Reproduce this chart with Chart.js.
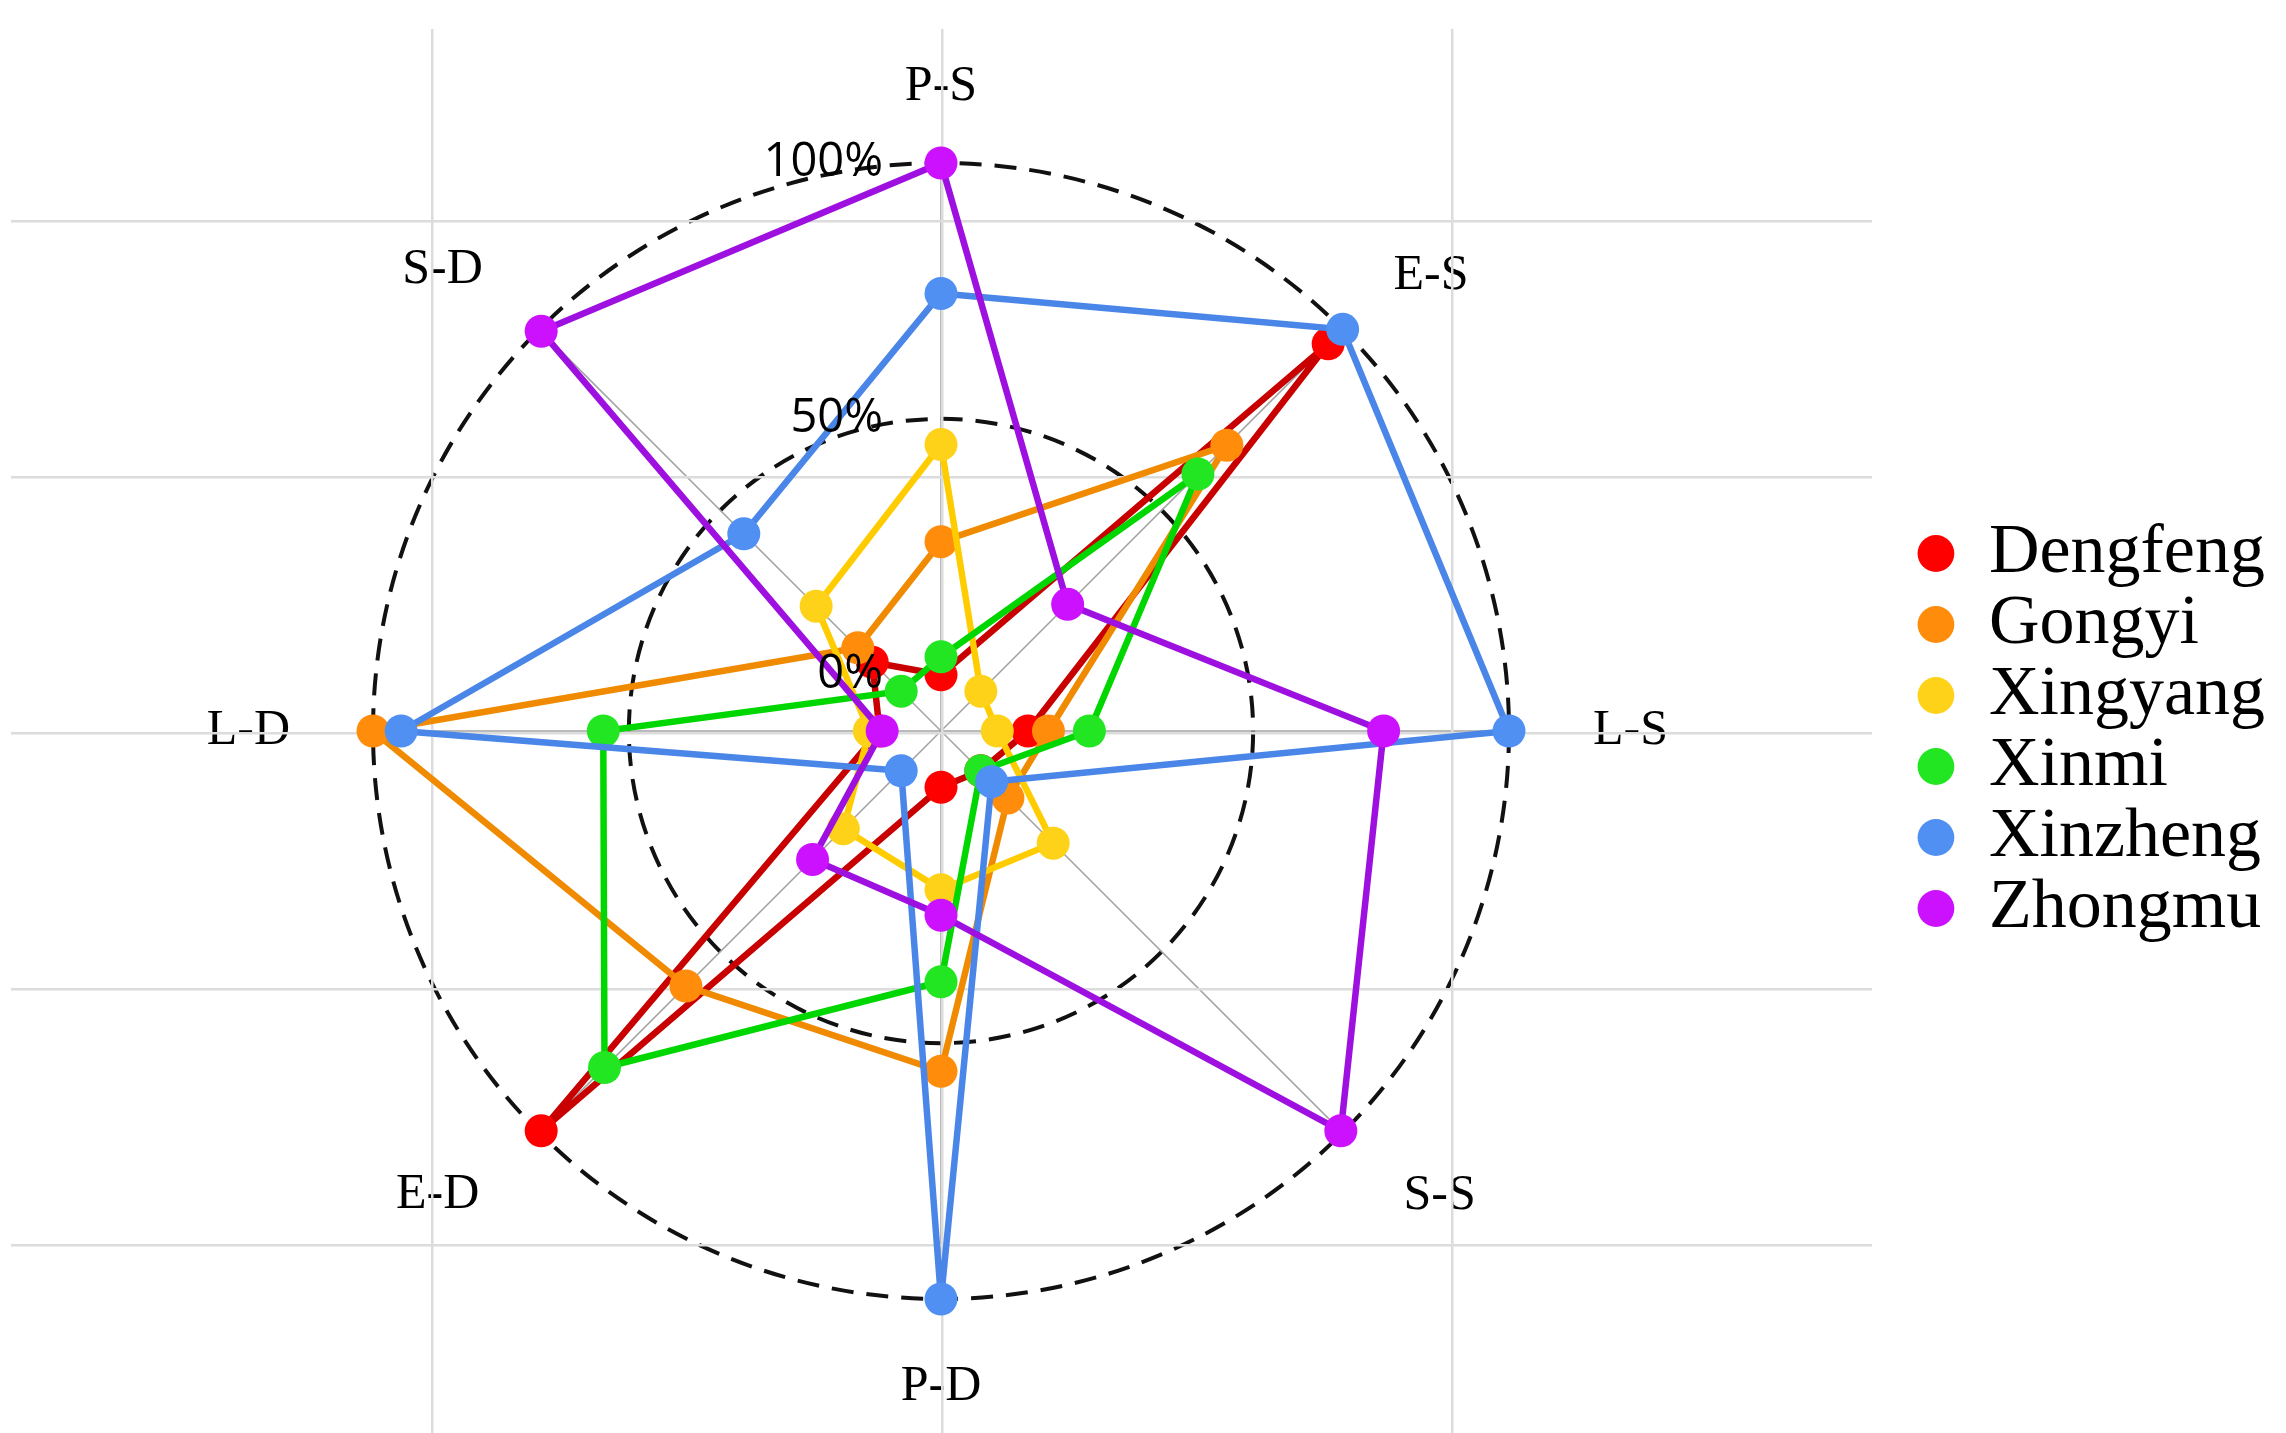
<!DOCTYPE html>
<html>
<head>
<meta charset="utf-8">
<script src="https://cdn.jsdelivr.net/npm/chart.js@4.4.1/dist/chart.umd.min.js"></script>
<style>
  html, body { margin: 0; padding: 0; background: #fff; }
  #wrap { width: 2286px; height: 1433px; }
</style>
</head>
<body>
<div id="wrap"><canvas id="radar"></canvas></div>
<script>
// axes, clockwise from the top
const categories = ["P-S", "E-S", "L-S", "S-S", "P-D", "E-D", "L-D", "S-D"]
const cities = ["Dengfeng", "Gongyi", "Xingyang", "Xinmi", "Xinzheng", "Zhongmu"]

// percentages
const dengfeng = [0, 96, 6, 0, 0, 99.5, 1, 8]
const gongyi   = [26, 68, 10, 7.5, 55.5, 59.5, 100, 12]
const xingyang = [45, 0, 0, 20, 20, 16, 3, 23.5]
const xinmi    = [3.5, 60, 18, 0, 38, 82, 55, 0]
const xinzheng = [74.5, 100, 100, 3, 100, 0, 94.5, 43.5]
const zhongmu  = [100, 24, 75.5, 99.5, 25, 24.5, 0.5, 99.5]

const tickValues = [0, 50, 100]

const lineColors  = ["#C80000", "#F08A00", "#FFCC00", "#00D600", "#4A86E8", "#9D10E0"]
const pointColors = ["#FF0000", "#FF8C0A", "#FFD21A", "#22E622", "#5090F2", "#CC11FF"]

const series = [dengfeng, gongyi, xingyang, xinmi, xinzheng, zhongmu]

// label distance from the 100% ring and label box height, per axis
const labelPad = [18, 72, 84, 86, 42, 85, 83, 80]
const labelLine = [2.32, 0.1, 1.2, 0.1, 1.84, 0.1, 1.2, 0.1]

const datasets = series.map((values, i) => ({
    label: cities[i],
    data: values,
    borderColor: lineColors[i],
    backgroundColor: pointColors[i],
    pointBackgroundColor: pointColors[i],
    pointBorderWidth: 0,
    pointRadius: 16.5,
    borderWidth: 6.5,
    fill: false,
    tension: 0,
    order: series.length - i
}))

// percent labels sit left of the vertical axis
const tickLabels = {
    id: "tickLabels",
    afterDatasetsDraw(chart){
        const r = chart.scales.r
        const ctx = chart.ctx
        ctx.save()
        ctx.font = '47px "Open Sans"'
        ctx.fillStyle = "#000"
        ctx.textAlign = "right"
        ctx.textBaseline = "middle"
        tickValues.forEach(v => {
            ctx.fillText(v + "%", r.xCenter - 58, r.yCenter - r.getDistanceFromCenterForValue(v))
        })
        ctx.restore()
    }
}

const ctx = document.getElementById("radar").getContext("2d")
new Chart(ctx, {
    type: "radar",
    data: { labels: categories, datasets: datasets },
    plugins: [tickLabels],
    options: {
        responsive: true,
        maintainAspectRatio: false,
        devicePixelRatio: 1,
        animation: false,
        layout: { padding: { left: 11, right: 11, top: 29, bottom: 0 } },
        scales: {
            r: {
                min: -11,
                max: 100,
                ticks: { display: false, stepSize: 50 },
                grid: {
                    circular: true,
                    color: c => (c.tick && (c.tick.value === 50 || c.tick.value === 100)) ? "#111" : "rgba(0,0,0,0)",
                    lineWidth: 4
                },
                border: { dash: [22, 13] },
                angleLines: { color: "#A3A3A3", lineWidth: 1.5 },
                pointLabels: {
                    color: "#000",
                    font: c => ({ family: "Liberation Serif", size: 50, lineHeight: labelLine[c.index] }),
                    padding: c => labelPad[c.index]
                }
            },
            // plain background grid behind the radar
            x: {
                type: "linear",
                position: "bottom",
                min: -1.827,
                max: 1.824,
                ticks: { display: false, stepSize: 1, includeBounds: false },
                grid: { color: "#DCDCDC", lineWidth: 2.5, drawTicks: false },
                border: { display: false }
            },
            y: {
                type: "linear",
                position: "right",
                min: -2.734,
                max: 2.75,
                ticks: { display: false, stepSize: 1, includeBounds: false },
                grid: { color: "#DCDCDC", lineWidth: 2.5, drawTicks: false },
                border: { display: false },
                afterFit(scale){ scale.width = 45 }
            }
        },
        plugins: {
            tooltip: { enabled: false },
            legend: {
                position: "right",
                align: "center",
                labels: {
                    usePointStyle: true,
                    boxWidth: 36,
                    boxHeight: 26,
                    padding: 1,
                    color: "#000",
                    font: { family: "Liberation Serif", size: 70 },
                    sort: (a, b) => a.datasetIndex - b.datasetIndex,
                    generateLabels(chart){
                        return Chart.defaults.plugins.legend.labels.generateLabels(chart).map(item => {
                            item.lineWidth = 0
                            item.fillStyle = pointColors[item.datasetIndex]
                            return item
                        })
                    }
                }
            }
        }
    }
})
</script>
</body>
</html>
